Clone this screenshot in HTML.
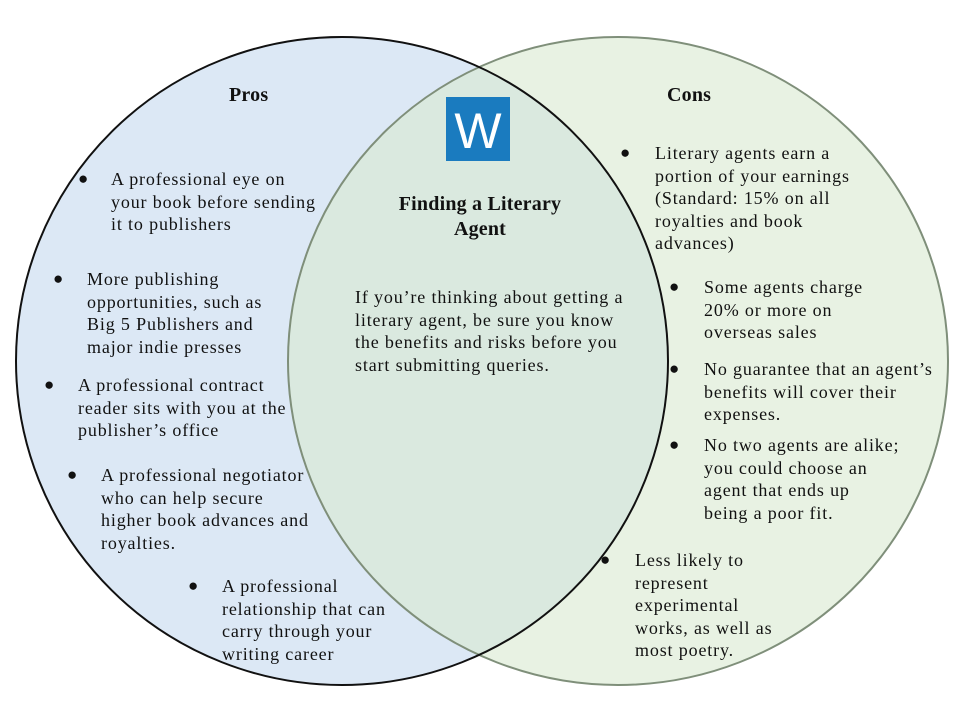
<!DOCTYPE html>
<html><head><meta charset="utf-8"><style>
body{margin:0;width:960px;height:720px;background:#fff;position:relative;overflow:hidden;font-family:"Liberation Serif",serif;color:#111}
svg{position:absolute;left:0;top:0}
.t{position:absolute;font-size:18px;line-height:22.5px;letter-spacing:0.85px;white-space:nowrap}
.b{position:absolute;font-size:17px;line-height:22.5px}
.h{position:absolute;font-size:20px;font-weight:bold;letter-spacing:0.2px;white-space:nowrap}
</style></head><body>
<svg width="960" height="720">
<ellipse cx="342" cy="361" rx="326" ry="324" fill="#dce8f5"/>
<ellipse cx="618" cy="361" rx="330" ry="324" fill="#d8e9d0" fill-opacity="0.6"/>
<ellipse cx="618" cy="361" rx="330" ry="324" fill="none" stroke="#7f8f7a" stroke-width="2"/>
<ellipse cx="342" cy="361" rx="326" ry="324" fill="none" stroke="#111" stroke-width="2"/>
<rect x="446" y="97" width="64" height="64" fill="#1a7bbf"/>
<text x="478" y="148" text-anchor="middle" font-family="Liberation Sans,sans-serif" font-size="50" fill="#fff">W</text>
</svg>
<div class="h" style="left:229px;top:84px">Pros</div>
<div class="h" style="left:667px;top:84px">Cons</div>
<div class="h" style="left:380px;top:192px;width:200px;text-align:center;line-height:25px">Finding a Literary<br>Agent</div>
<div class="t" style="left:355px;top:286px">If you’re thinking about getting a<br>literary agent, be sure you know<br>the benefits and risks before you<br>start submitting queries.</div>

<div class="b" style="left:78px;top:168px">●</div><div class="t" style="left:111px;top:168px">A professional eye on<br>your book before sending<br>it to publishers</div>
<div class="b" style="left:53px;top:268px">●</div><div class="t" style="left:87px;top:268px">More publishing<br>opportunities, such as<br>Big 5 Publishers and<br>major indie presses</div>
<div class="b" style="left:44px;top:374px">●</div><div class="t" style="left:78px;top:374px">A professional contract<br>reader sits with you at the<br>publisher’s office</div>
<div class="b" style="left:67px;top:464px">●</div><div class="t" style="left:101px;top:464px">A professional negotiator<br>who can help secure<br>higher book advances and<br>royalties.</div>
<div class="b" style="left:188px;top:575px">●</div><div class="t" style="left:222px;top:575px">A professional<br>relationship that can<br>carry through your<br>writing career</div>

<div class="b" style="left:620px;top:142px">●</div><div class="t" style="left:655px;top:142px">Literary agents earn a<br>portion of your earnings<br>(Standard: 15% on all<br>royalties and book<br>advances)</div>
<div class="b" style="left:669px;top:276px">●</div><div class="t" style="left:704px;top:276px">Some agents charge<br>20% or more on<br>overseas sales</div>
<div class="b" style="left:669px;top:358px">●</div><div class="t" style="left:704px;top:358px">No guarantee that an agent’s<br>benefits will cover their<br>expenses.</div>
<div class="b" style="left:669px;top:434px">●</div><div class="t" style="left:704px;top:434px">No two agents are alike;<br>you could choose an<br>agent that ends up<br>being a poor fit.</div>
<div class="b" style="left:600px;top:549px">●</div><div class="t" style="left:635px;top:549px">Less likely to<br>represent<br>experimental<br>works, as well as<br>most poetry.</div>
</body></html>
